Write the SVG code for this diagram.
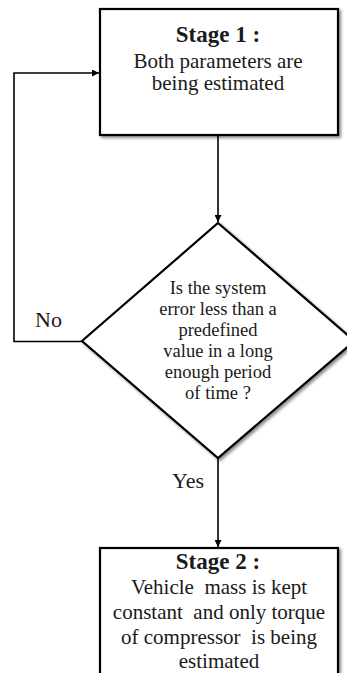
<svg xmlns="http://www.w3.org/2000/svg" width="347" height="673" viewBox="0 0 347 673">
  <style>
    .shape { fill: #ffffff; stroke: #000000; stroke-width: 2.2; filter: url(#soft); }
    .link { fill: none; stroke: #000000; stroke-width: 1.6; }
    .t { font-family: "Liberation Serif", "Times New Roman", serif; fill: #1a1a1a; text-anchor: middle; white-space: pre; }
    .h { font-weight: bold; font-size: 23px; }
    .b { font-size: 21px; }
    .d { font-size: 18.5px; }
    .lbl { font-family: "Liberation Serif", "Times New Roman", serif; fill: #1a1a1a; font-size: 22px; }
  </style>
  <defs>
    <filter id="soft" x="-10%" y="-10%" width="125%" height="125%">
      <feGaussianBlur in="SourceAlpha" stdDeviation="1.6"/>
      <feOffset dx="1.5" dy="1.5" result="blur"/>
      <feFlood flood-color="#000000" flood-opacity="0.45"/>
      <feComposite in2="blur" operator="in"/>
      <feMerge><feMergeNode/><feMergeNode in="SourceGraphic"/></feMerge>
    </filter>
    <marker id="arrow" viewBox="0 0 10 10" refX="10" refY="5" markerWidth="7" markerHeight="7" markerUnits="userSpaceOnUse" orient="auto">
      <path d="M0,0 L10,5 L0,10 z" fill="#000000"/>
    </marker>
  </defs>

  <!-- connectors -->
  <g id="connectors">
    <path class="link" d="M218,136 L218,222" marker-end="url(#arrow)"/>
    <path class="link" d="M82,341.5 L14,341.5 L14,73 L99,73" marker-end="url(#arrow)"/>
    <path class="link" d="M218,458 L218,547" marker-end="url(#arrow)"/>
    <text class="lbl" x="35" y="327">No</text>
    <text class="lbl" x="172" y="488" font-size="23">Yes</text>
  </g>

  <!-- stage 1 box -->
  <g id="stage1">
    <rect class="shape" x="100" y="9" width="238" height="126"/>
    <text class="t h" x="218" y="42">Stage 1 :</text>
    <text class="t b" x="218" y="68">Both parameters are</text>
    <text class="t b" x="218" y="90">being estimated</text>
  </g>

  <!-- decision -->
  <g id="decision">
    <polygon class="shape" points="218,223 354.5,341 218,458 82,341"/>
    <text class="t d" x="218" y="294">Is the system</text>
    <text class="t d" x="218" y="315">error less than a</text>
    <text class="t d" x="218" y="336">predefined</text>
    <text class="t d" x="218" y="357">value in a long</text>
    <text class="t d" x="218" y="378">enough period</text>
    <text class="t d" x="218" y="399">of time ?</text>
  </g>

  <!-- stage 2 box -->
  <g id="stage2">
    <rect class="shape" x="100" y="548" width="238" height="140"/>
    <text class="t h" x="218" y="569">Stage 2 :</text>
    <text class="t b" x="219" y="594">Vehicle  mass is kept</text>
    <text class="t b" x="219" y="619">constant  and only torque</text>
    <text class="t b" x="219" y="644">of compressor  is being</text>
    <text class="t b" x="219" y="668">estimated</text>
  </g>
</svg>
